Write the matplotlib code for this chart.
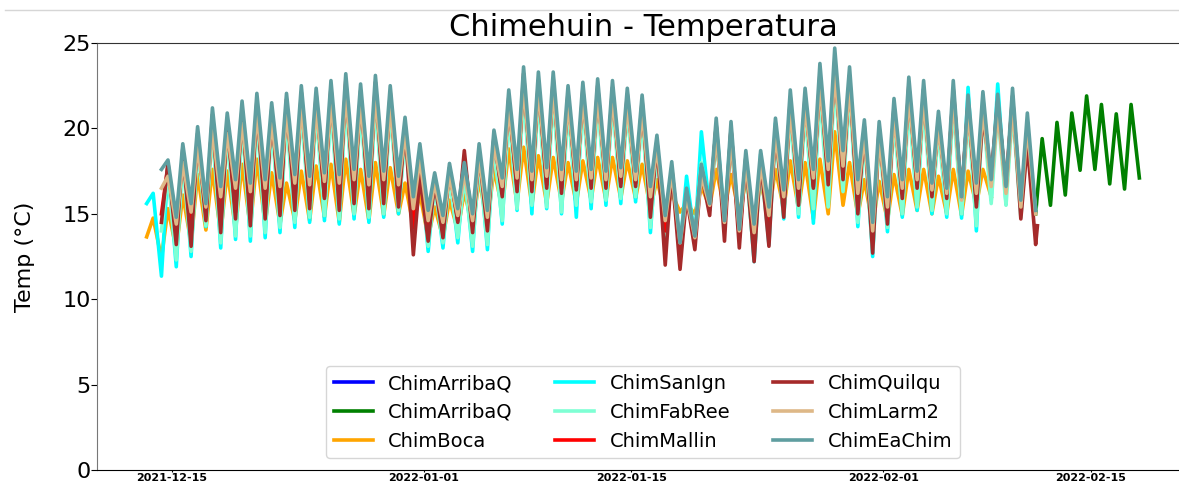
import datetime as dt

import matplotlib
matplotlib.use("Agg")
import matplotlib.dates as mdates
import matplotlib.pyplot as plt
from matplotlib.lines import Line2D

# Daily temperature extremes (degC) for each logger.
# Day index k counts days from 2021-12-14; lows[i] is the early-morning minimum
# of day (first + i), highs[i] the afternoon maximum of the same day.
BASE = dt.datetime(2021, 12, 14)

arribaq_blue_first = 0
arribaq_blue_lows = []
arribaq_blue_highs = []

arribaq_green_first = 59
arribaq_green_lows = [15.0, 15.5, 16.1, 17.55, 17.6, 16.75, 16.45, 17.1]
arribaq_green_highs = [19.4, 20.35, 20.9, 21.9, 21.4, 20.85, 21.4]

boca_first = -1
boca_lows = [13.65,
             12.4, 12.9, 13.3, 14.05, 13.8, 14.1, 14.2, 14.4, 14.4, 14.6,
             14.6, 14.8, 14.5, 14.9, 14.6, 14.9, 15.0, 14.3, 13.6, 13.6,
             14.0, 14.2, 14.4, 15.3, 15.6, 15.5, 15.6, 15.7, 15.6, 15.8,
             15.8, 15.9, 15.9, 15.3, 15.0, 15.1, 15.0, 15.4, 15.2, 15.0,
             14.8, 15.0, 15.3, 15.3, 14.7, 15.0, 15.5, 14.9, 14.3, 14.6,
             14.9, 15.2, 15.0, 15.0, 14.9, 15.5, 16.0]
boca_highs = [14.75,
              15.3, 16.1, 17.3, 17.6, 17.5, 17.9, 18.2, 17.4, 16.8, 17.5,
              17.8, 17.9, 18.2, 17.6, 18.0, 17.7, 16.8, 16.2, 15.4, 15.8,
              16.3, 17.0, 17.6, 18.8, 18.9, 18.4, 18.3, 18.0, 18.1, 18.3,
              18.3, 18.1, 17.9, 17.0, 16.2, 15.6, 16.6, 17.6, 17.3, 16.9,
              16.7, 17.6, 18.1, 18.0, 18.2, 19.8, 18.0, 17.0, 16.9, 17.3,
              17.6, 17.6, 17.2, 17.6, 17.5, 17.6]

sanign_first = -1
sanign_lows = [15.6,
               11.35, 11.9, 12.5, 14.25, 13.0, 13.5, 13.4, 13.6, 13.9, 14.2,
               14.5, 14.6, 14.4, 14.7, 14.5, 14.8, 15.0, 14.0, 12.8, 13.0,
               13.3, 12.8, 12.9, 14.4, 15.2, 15.0, 15.3, 15.0, 14.8, 15.3,
               15.5, 15.6, 15.7, 13.9, 13.5, 13.0, 13.5, 15.2, 14.6, 13.85,
               12.2, 13.2, 14.7, 14.8, 14.45, 15.5, 16.4, 14.25, 12.5, 13.95,
               14.8, 15.2, 15.0, 14.8, 14.75, 14.0, 15.8, 15.6]
sanign_highs = [16.2,
                17.8, 18.8, 19.6, 20.5, 20.3, 21.0, 21.5, 21.0, 21.4, 21.8,
                21.8, 22.0, 22.4, 21.9, 22.3, 21.8, 20.0, 18.6, 17.0, 17.5,
                17.6, 18.6, 19.5, 21.6, 23.0, 22.7, 22.7, 22.0, 22.2, 22.3,
                22.3, 21.9, 21.5, 19.2, 17.6, 17.2, 19.8, 20.2, 19.9, 18.3,
                18.5, 20.3, 21.6, 21.8, 23.0, 23.6, 22.8, 20.0, 20.0, 21.3,
                22.3, 22.3, 20.6, 22.2, 22.4, 21.8, 22.6]

fabree_first = 0
fabree_lows = [14.0, 12.3, 12.8, 14.3, 13.3, 13.7, 13.7, 13.9, 14.2, 14.5,
               14.8, 14.9, 14.7, 15.0, 14.8, 15.0, 15.2, 14.2, 13.1, 13.3,
               13.6, 13.1, 13.2, 14.6, 15.3, 15.5, 15.4, 15.1, 15.5, 15.7,
               15.8, 15.9, 16.0, 14.2, 13.8, 13.3, 13.7, 15.3, 14.8, 14.2,
               12.6, 13.6, 14.9, 15.0, 15.3, 15.4, 16.3, 14.5, 12.8, 14.2,
               15.0, 15.4, 15.2, 15.0, 15.0, 14.3, 15.6, 15.5, 14.8,
               15.3]
fabree_highs = [17.2, 18.0, 18.8, 19.8, 19.6, 20.2, 20.6, 20.2, 20.6, 21.0,
                20.9, 21.2, 21.6, 21.1, 21.5, 21.0, 19.4, 18.0, 16.6, 17.0,
                17.2, 18.0, 18.8, 20.8, 22.0, 21.8, 21.8, 21.1, 21.3, 21.4,
                21.4, 21.0, 20.6, 18.5, 17.0, 16.2, 18.0, 19.2, 19.0, 17.6,
                17.6, 19.4, 20.7, 20.9, 22.0, 22.8, 22.0, 19.3, 19.2, 20.4,
                21.4, 21.3, 19.8, 21.3, 20.8, 21.0, 21.0, 21.0, 19.6]

mallin_first = 0
mallin_lows = [15.0, 13.8, 13.9, 15.0, 14.6, 15.1, 15.0, 15.2, 15.4, 15.8,
               15.8, 16.0, 15.9, 16.2, 15.9, 16.2, 16.0, 14.2, 13.8, 14.2,
               14.6, 14.3, 14.5, 16.2, 16.5, 16.6, 16.7, 16.5, 16.6, 16.8,
               16.8, 16.8, 16.8, 15.3, 14.0, 12.9, 13.6, 15.5, 14.2, 13.6,
               13.2, 14.2, 15.5, 16.0, 16.6, 17.2, 17.4, 15.6, 13.5, 15.0,
               16.2, 16.7, 16.2, 16.2, 16.1, 15.8, 17.0, 16.7, 15.8]
mallin_highs = [17.8, 18.6, 19.5, 20.6, 20.3, 21.0, 21.4, 20.9, 21.5, 21.9,
                21.8, 22.2, 22.6, 22.0, 22.5, 21.9, 20.1, 18.5, 17.0, 17.5,
                18.2, 18.6, 19.4, 21.6, 23.0, 22.6, 22.7, 21.9, 22.1, 22.3,
                22.2, 21.8, 21.4, 19.2, 17.7, 16.2, 17.7, 20.1, 19.9, 18.2,
                18.2, 20.0, 21.6, 21.7, 23.0, 23.7, 22.9, 19.9, 19.8, 21.1,
                22.3, 22.1, 20.4, 22.1, 21.3, 21.5, 21.4, 21.7]

quilqu_first = 0
quilqu_lows = [14.5, 13.2, 13.1, 14.6, 13.9, 14.7, 14.3, 14.7, 14.9, 15.2,
               15.3, 15.9, 15.2, 15.6, 15.3, 15.6, 15.4, 12.6, 13.4, 13.6,
               14.5, 13.9, 14.0, 16.0, 16.3, 16.3, 16.5, 16.2, 16.4, 16.5,
               16.5, 16.6, 16.6, 14.8, 12.0, 11.75, 12.9, 14.9, 13.4, 13.0,
               12.2, 13.1, 14.8, 15.5, 16.5, 16.7, 17.0, 15.0, 12.7, 14.4,
               15.9, 16.5, 16.0, 15.9, 15.9, 15.4, 17.2, 16.4, 14.7,
               13.2]
quilqu_highs = [18.0, 18.8, 19.7, 20.8, 20.5, 21.2, 21.6, 21.1, 21.7, 22.1,
                22.0, 22.4, 22.8, 22.2, 22.7, 22.1, 20.3, 17.2, 16.9, 17.7,
                18.7, 18.5, 19.5, 21.8, 23.2, 22.8, 22.9, 22.1, 22.3, 22.5,
                22.4, 22.0, 21.6, 19.3, 17.6, 16.0, 17.4, 20.2, 20.0, 18.3,
                18.2, 20.1, 21.8, 21.9, 23.2, 23.9, 23.1, 20.1, 20.0, 21.3,
                22.5, 22.3, 20.6, 22.3, 21.5, 20.7, 21.6, 21.9, 19.1]
quilqu_last = 14.3

larm2_first = 0
larm2_lows = [16.5, 14.4, 15.1, 15.4, 16.0, 16.5, 16.3, 16.5, 16.6, 16.8,
              16.7, 16.9, 16.8, 17.0, 16.7, 17.0, 16.7, 15.3, 14.6, 14.5,
              14.9, 14.6, 14.8, 16.6, 17.1, 17.0, 17.2, 17.0, 17.0, 17.1,
              17.0, 17.2, 17.0, 16.0, 14.6, 13.3, 13.6, 15.5, 14.5, 14.0,
              13.9, 14.9, 16.0, 16.5, 17.1, 17.6, 17.8, 16.2, 14.0, 15.4,
              16.5, 17.0, 16.4, 16.2, 15.8, 16.2, 16.6, 16.2, 15.4,
              15.0]
larm2_highs = [17.2, 18.0, 18.9, 19.9, 19.7, 20.3, 20.8, 20.3, 20.8, 21.2,
               21.1, 21.5, 21.9, 21.4, 21.8, 21.2, 19.7, 18.2, 16.8, 17.2,
               17.4, 18.3, 19.0, 21.2, 22.5, 22.3, 22.3, 21.5, 21.7, 21.8,
               21.8, 21.4, 21.0, 18.9, 17.4, 16.0, 17.2, 19.6, 19.4, 17.9,
               17.9, 19.6, 21.1, 21.3, 22.6, 23.2, 22.5, 19.6, 19.4, 20.7,
               21.9, 21.7, 20.1, 21.8, 21.0, 21.1, 21.0, 21.3, 20.1]

eachim_first = 0
eachim_lows = [17.6, 14.8, 15.6, 15.6, 16.6, 17.0, 16.8, 17.0, 17.1, 17.3,
               17.2, 17.4, 17.3, 17.6, 17.2, 17.5, 17.2, 16.0, 15.2, 14.9,
               15.3, 15.0, 15.2, 17.1, 17.6, 17.5, 17.7, 17.6, 17.5, 17.6,
               17.5, 17.7, 17.5, 16.6, 14.9, 13.3, 13.7, 15.6, 14.6, 14.1,
               14.4, 15.4, 16.4, 17.0, 17.6, 18.1, 18.7, 17.0, 14.5, 16.0,
               17.0, 17.5, 16.8, 16.5, 16.0, 16.8, 17.0, 16.6, 15.8,
               15.2]
eachim_highs = [18.15, 19.1, 20.1, 21.2, 20.9, 21.6, 22.05, 21.5, 22.05, 22.5,
                22.35, 22.8, 23.2, 22.6, 23.1, 22.5, 20.65, 19.1, 17.4, 17.95,
                18.0, 19.1, 19.9, 22.25, 23.6, 23.3, 23.3, 22.5, 22.7, 22.9,
                22.8, 22.35, 21.95, 19.6, 18.05, 16.5, 17.9, 20.6, 20.4, 18.7,
                18.7, 20.6, 22.25, 22.35, 23.8, 24.7, 23.6, 20.5, 20.4, 21.75,
                23.0, 22.8, 21.0, 22.8, 21.95, 22.15, 22.0, 22.35, 20.9]

labels = ["ChimArribaQ", "ChimArribaQ", "ChimBoca", "ChimSanIgn", "ChimFabRee",
          "ChimMallin", "ChimQuilqu", "ChimLarm2", "ChimEaChim"]
colors = ["blue", "green", "orange", "cyan", "aquamarine",
          "red", "brown", "burlywood", "cadetblue"]

series = [
    (arribaq_blue_first, arribaq_blue_lows, arribaq_blue_highs, []),
    (arribaq_green_first, arribaq_green_lows, arribaq_green_highs, []),
    (boca_first, boca_lows, boca_highs, []),
    (sanign_first, sanign_lows, sanign_highs, []),
    (fabree_first, fabree_lows, fabree_highs, []),
    (mallin_first, mallin_lows, mallin_highs, []),
    (quilqu_first, quilqu_lows, quilqu_highs, [quilqu_last]),
    (larm2_first, larm2_lows, larm2_highs, []),
    (eachim_first, eachim_lows, eachim_highs, []),
]

MIN_HOUR = 0.28   # fraction of the day of the daily minimum
MAX_HOUR = 0.72   # fraction of the day of the daily maximum
base_num = mdates.date2num(BASE)


def build(first, lows, highs, tail):
    """Interleave daily minima and maxima into one time series."""
    t, v = [], []
    for i in range(max(len(lows), len(highs))):
        if i < len(lows):
            t.append(base_num + first + i + MIN_HOUR)
            v.append(lows[i])
        if i < len(highs):
            t.append(base_num + first + i + MAX_HOUR)
            v.append(highs[i])
    for j, val in enumerate(tail):
        t.append(t[-1] + 0.12 * (j + 1))
        v.append(val)
    return t, v


fig = plt.figure(figsize=(11.79, 4.84), dpi=100)
ax = fig.add_axes([97 / 1179, 1 - 470 / 484, (1189 - 97) / 1179, (470 - 43) / 484])

for (first, lows, highs, tail), lab, col in zip(series, labels, colors):
    t, v = build(first, lows, highs, tail)
    ax.plot(t, v, color=col, lw=2.6, label=lab)

ax.set_ylim(0, 25)
ax.set_yticks([0, 5, 10, 15, 20, 25])
tick_dates = [dt.datetime(2021, 12, 15), dt.datetime(2022, 1, 1),
              dt.datetime(2022, 1, 15), dt.datetime(2022, 2, 1),
              dt.datetime(2022, 2, 15)]
ax.set_xticks([mdates.date2num(d) for d in tick_dates])
ax.xaxis.set_major_formatter(mdates.DateFormatter("%Y-%m-%d"))

ax.tick_params(axis="y", labelsize=16, length=4, pad=0.5)
ax.tick_params(axis="x", labelsize=8, length=1.5, pad=0.5)
for lbl in ax.get_xticklabels():
    lbl.set_fontweight("bold")

ax.spines["left"].set_color("#777777")
ax.spines["top"].set_color("#333333")

ax.set_title("Chimehuin - Temperatura", fontsize=22, pad=5)
ax.set_ylabel("Temp (°C)", fontsize=16, labelpad=20)

ax.legend(loc="lower center", ncol=3, fontsize=14, handlelength=2.0,
          columnspacing=2.2, borderaxespad=0.6)

fig.add_artist(Line2D([5 / 1179, 1.0], [1 - 9.5 / 484] * 2,
                      color="#d6d6d6", lw=1.0))

fig.savefig("out.png", dpi=100)
